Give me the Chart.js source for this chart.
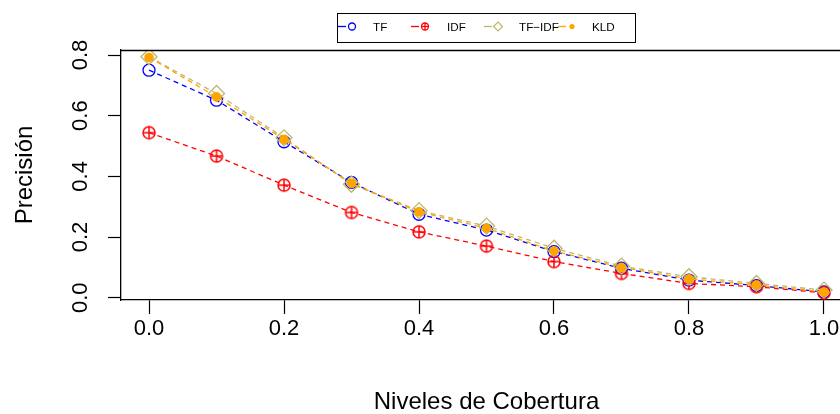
<!DOCTYPE html>
<html><head><meta charset="utf-8">
<script src="https://cdn.jsdelivr.net/npm/chart.js@4"></script>
<style>
html,body{margin:0;padding:0;overflow:hidden;background:#fff;width:840px;height:414px}
#wrap{position:relative;width:852px;height:414px}
#legendBox{position:absolute;left:337px;top:13px;width:297px;height:28px;border:1px solid #000}
.lt{position:absolute;font-family:"Liberation Sans",Arial,sans-serif;font-size:11.7px;line-height:16px;top:18.5px;color:#000;white-space:nowrap}
#legSvg{position:absolute;left:0;top:0}
</style></head><body>
<div id="wrap">
<canvas id="c" width="852" height="414"></canvas>
<div id="legendBox"></div>
<svg id="legSvg" width="840" height="50"></svg>
</div>
<script>
const coverageLevels = [0.0, 0.1, 0.2, 0.3, 0.4, 0.5, 0.6, 0.7, 0.8, 0.9, 1.0];
const tfValues    = [0.750, 0.651, 0.514, 0.380, 0.275, 0.223, 0.152, 0.097, 0.058, 0.040, 0.019];
const idfValues   = [0.544, 0.467, 0.371, 0.281, 0.217, 0.170, 0.119, 0.080, 0.047, 0.036, 0.016];
const tfidfValues = [0.794, 0.673, 0.527, 0.374, 0.287, 0.236, 0.163, 0.104, 0.069, 0.047, 0.025];
const kldValues   = [0.792, 0.662, 0.522, 0.377, 0.283, 0.229, 0.154, 0.100, 0.062, 0.042, 0.019];
const seriesNames = ["TF", "IDF", "TF\u2212IDF", "KLD"];
const xTickValues = [0.0, 0.2, 0.4, 0.6, 0.8, 1.0];
const yTickValues = [0.0, 0.2, 0.4, 0.6, 0.8];
const xTitle = "Niveles de Cobertura";
const yTitle = "Precisión";

const FAM = '"Liberation Sans", Arial, Helvetica, sans-serif';
const colors = ["#0000FF", "#FF0000", "#BDB76B", "#FFA500"];

function circlePlus(r, color, lw) {
  const s = Math.ceil(2 * r + lw + 2);
  const c = document.createElement('canvas');
  c.width = s; c.height = s;
  const g = c.getContext('2d');
  g.strokeStyle = color; g.lineWidth = lw;
  g.beginPath();
  g.arc(s / 2, s / 2, r, 0, 2 * Math.PI);
  g.moveTo(s / 2 - r, s / 2); g.lineTo(s / 2 + r, s / 2);
  g.moveTo(s / 2, s / 2 - r); g.lineTo(s / 2, s / 2 + r);
  g.stroke();
  return c;
}

const pts = arr => coverageLevels.map((x, i) => ({x: x, y: arr[i]}));
const dash = [5, 4];

const datasets = [
  {label: seriesNames[0], data: pts(tfValues), borderColor: colors[0], backgroundColor: 'rgba(0,0,0,0)',
   pointStyle: 'circle', pointRadius: 6, pointBorderWidth: 1.3, pointBorderColor: colors[0], pointBackgroundColor: 'rgba(0,0,0,0)', order: 3},
  {label: seriesNames[1], data: pts(idfValues), borderColor: colors[1], backgroundColor: 'rgba(0,0,0,0)',
   pointStyle: circlePlus(6, colors[1], 1.5), pointRadius: 6, order: 2},
  {label: seriesNames[2], data: pts(tfidfValues), borderColor: colors[2], backgroundColor: 'rgba(0,0,0,0)',
   pointStyle: 'rectRot', pointRadius: 8, pointBorderWidth: 1.3, pointBorderColor: colors[2], pointBackgroundColor: 'rgba(0,0,0,0)', order: 1},
  {label: seriesNames[3], data: pts(kldValues), borderColor: colors[3], backgroundColor: colors[3],
   pointStyle: 'circle', pointRadius: 4.8, pointBorderWidth: 0, pointBackgroundColor: colors[3], order: 0}
];
datasets.forEach(d => { d.borderWidth = 1.3; d.borderDash = dash; d.tension = 0; d.fill = false; });

const frame = {
  id: 'frame',
  afterDraw(chart) {
    const {ctx, chartArea} = chart;
    ctx.save();
    ctx.strokeStyle = '#000'; ctx.lineWidth = 1.3;
    ctx.beginPath();
    ctx.moveTo(chartArea.left, chartArea.top + 0.5);
    ctx.lineTo(chartArea.right, chartArea.top + 0.5);
    ctx.stroke();
    ctx.restore();
  }
};

new Chart(document.getElementById('c'), {
  type: 'line',
  data: {datasets},
  plugins: [frame],
  options: {
    responsive: false, animation: false, devicePixelRatio: 1,
    layout: {autoPadding: false, padding: {top: 50, left: 0, right: 0, bottom: 0}},
    plugins: {legend: {display: false}, tooltip: {enabled: false}},
    scales: {
      x: {
        type: 'linear', min: -0.0415, max: 1.0415,
        afterBuildTicks: s => { s.ticks = xTickValues.map(v => ({value: v})); },
        afterFit: s => { s.height = 114; s.paddingLeft = 0; s.paddingRight = 0; },
        ticks: {callback: v => v.toFixed(1), font: {size: 22, family: FAM}, color: '#000', padding: 2, maxRotation: 0, autoSkip: false},
        grid: {drawOnChartArea: false, drawTicks: true, tickLength: 14, color: '#000', tickColor: '#000', tickWidth: 1.2},
        border: {display: true, color: '#000', width: 1.3},
        title: {display: true, text: xTitle, font: {size: 24, family: FAM, lineHeight: 1}, color: '#000', padding: {top: 0, bottom: 0}}
      },
      y: {
        type: 'linear', min: -0.0076, max: 0.8165,
        afterBuildTicks: s => { s.ticks = yTickValues.map(v => ({value: v})); },
        afterFit: s => { s.width = 121; s.paddingTop = 0; s.paddingBottom = 0; },
        ticks: {callback: v => v.toFixed(1), font: {size: 22, family: FAM}, color: '#000', minRotation: 90, maxRotation: 90, crossAlign: 'center', padding: 12, autoSkip: false},
        grid: {drawOnChartArea: false, drawTicks: true, tickLength: 13, color: '#000', tickColor: '#000', tickWidth: 1.2},
        border: {display: true, color: '#000', width: 1.3},
        title: {display: true, text: yTitle, font: {size: 24, family: FAM, lineHeight: 1}, color: '#000', padding: {top: 13, bottom: 0}}
      }
    }
  }
});

// Legend (HTML / SVG)
const legTextX = [373, 447, 519, 592];
const legSymX = [352, 425, 498, 572];
const svg = document.getElementById('legSvg');
const NS = 'http://www.w3.org/2000/svg';
function el(tag, attrs) { const e = document.createElementNS(NS, tag); for (const k in attrs) e.setAttribute(k, attrs[k]); svg.appendChild(e); return e; }
seriesNames.forEach((name, i) => {
  const cx = legSymX[i], cy = 26.5, col = colors[i];
  el('line', {x1: cx - 14, y1: cy, x2: cx - 6, y2: cy, stroke: col, 'stroke-width': 1.3});
  if (i === 0) el('circle', {cx, cy, r: 3.5, fill: 'none', stroke: col, 'stroke-width': 1.3});
  if (i === 1) {
    el('circle', {cx, cy, r: 3.5, fill: 'none', stroke: col, 'stroke-width': 1.3});
    el('line', {x1: cx - 3.5, y1: cy, x2: cx + 3.5, y2: cy, stroke: col, 'stroke-width': 1.3});
    el('line', {x1: cx, y1: cy - 3.5, x2: cx, y2: cy + 3.5, stroke: col, 'stroke-width': 1.3});
  }
  if (i === 2) el('polygon', {points: `${cx-4.5},${cy} ${cx},${cy-4.5} ${cx+4.5},${cy} ${cx},${cy+4.5}`, fill: 'none', stroke: col, 'stroke-width': 1.2});
  if (i === 3) el('circle', {cx, cy, r: 2.6, fill: col});
  const t = document.createElement('div');
  t.className = 'lt'; t.style.left = legTextX[i] + 'px'; t.textContent = name;
  document.getElementById('wrap').appendChild(t);
});
</script>
</body></html>
